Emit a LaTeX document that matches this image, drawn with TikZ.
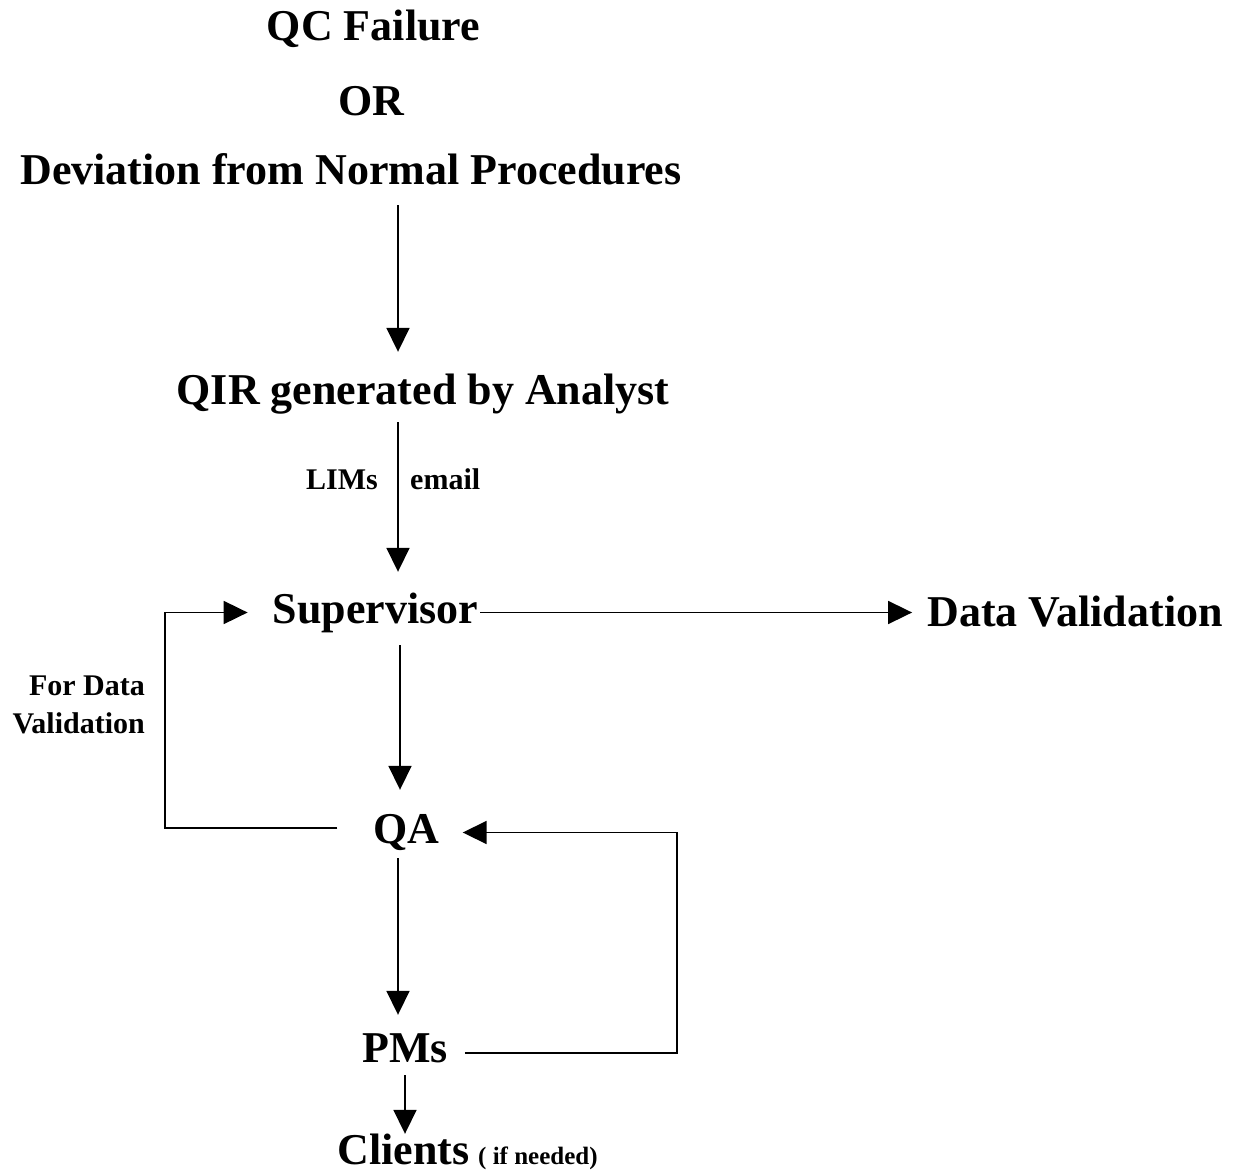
\documentclass[tikz,border=0pt]{standalone}
\usepackage{fontspec}
\setmainfont{Liberation Serif}
\usetikzlibrary{arrows.meta}
\begin{document}
\begin{tikzpicture}[x=1pt,y=-1pt,
  big/.style={font=\bfseries\fontsize{44}{48}\selectfont, inner sep=0pt, text height=30pt, text depth=9pt, anchor=base},
  small/.style={font=\bfseries\fontsize{30}{34}\selectfont, inner sep=0pt},
  arr/.style={line width=1.8pt, -{Triangle[length=24pt,width=23pt]}}]
\useasboundingbox (0,0) rectangle (1235,1172);
\node[big] (qc) at (373.5,41) {QC Failure};
\node[big] (or) at (371,115) {OR};
\node[big] (dev) at (351,184) {Deviation from Normal Procedures};
\node[big] (qir) at (423,404) {QIR generated by Analyst};
\node[big] (sup) at (375.5,623) {Supervisor};
\node[big] (dv) at (1075,626) {Data Validation};
\node[big] (qa) at (406.5,843) {QA};
\node[big] (pms) at (405,1062) {PMs};
\node[big, text depth=0pt] (cl) at (403.5,1164) {Clients};
\node[small, font=\bfseries\fontsize{25}{28}\selectfont, anchor=base west] (ifn) at (478,1164) {( if needed)};
\node[small, anchor=base east] (lims) at (378,489) {LIMs};
\node[small, anchor=base west] (email) at (410,489) {email};
\node[small, anchor=base east] (fd1) at (145,695) {For Data};
\node[small, anchor=base east] (fd2) at (145,733) {Validation};
\coordinate (vx) at (398,0);
\coordinate (vx2) at (400,0);
\coordinate (vx3) at (405,0);
\coordinate (fb) at (165,0);
\coordinate (rc) at (677,0);
\draw[arr, shorten <=12pt, shorten >=22pt] (dev.south -| vx) -- (qir.north -| vx);
\draw[arr, shorten <=9pt, shorten >=21pt] (qir.south -| vx) -- (sup.north -| vx);
\draw[arr, shorten <=13pt, shorten >=23pt] (sup.south -| vx2) -- (qa.north -| vx2);
\draw[arr, shorten <=6pt, shorten >=17pt] (qa.south -| vx) -- (pms.north -| vx);
\draw[arr, shorten <=4pt, shorten >=0pt] (pms.south -| vx3) -- (cl.north -| vx3);
\draw[arr, shorten <=2pt, shorten >=15pt] (sup.east) -- (sup.east -| dv.west);
\draw[arr, shorten <=36pt, shorten >=25pt] ([yshift=4.5pt]qa.west) -| (fb |- sup.west) -- (sup.west);
\draw[arr, shorten <=17pt, shorten >=23pt] ([yshift=-1.5pt]pms.east) -| (rc |- qa.east) -- (qa.east);
\end{tikzpicture}
\end{document}
